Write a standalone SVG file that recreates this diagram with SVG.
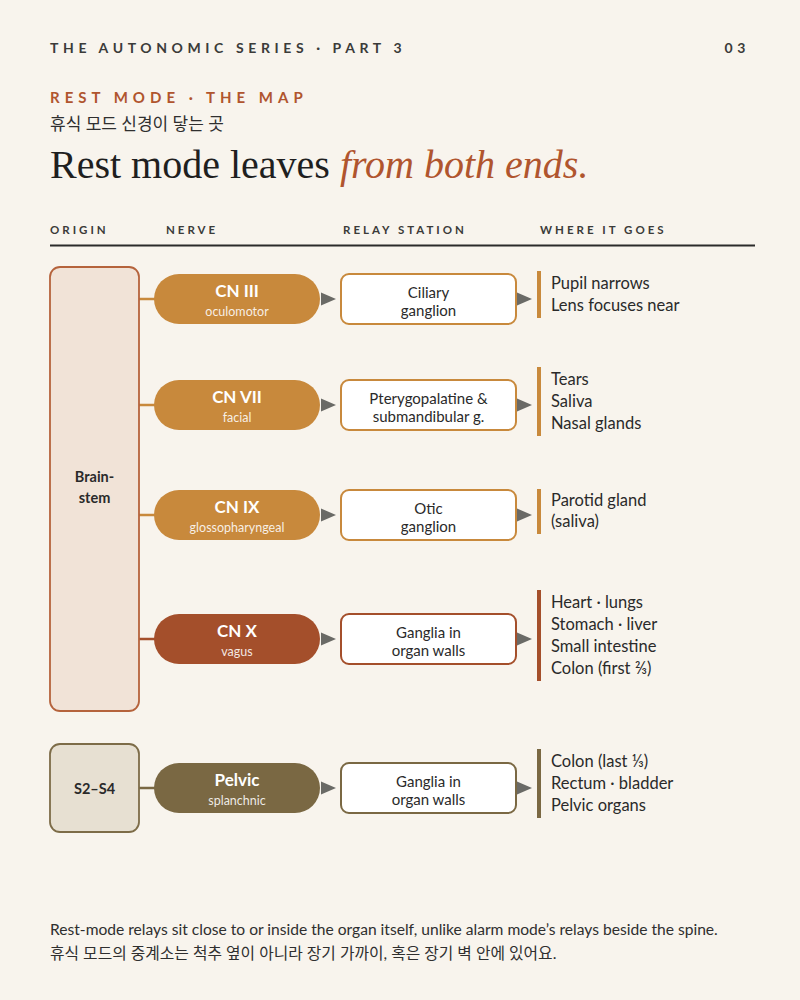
<svg xmlns="http://www.w3.org/2000/svg" width="800" height="1000" viewBox="0 0 800 1000">
<defs>
<style>
.sans{font-family:"Lato","Liberation Sans","Noto Sans CJK KR",sans-serif}
.kr{font-family:"Lato","Noto Sans CJK KR",sans-serif}
.kick{font-family:"Lato","Liberation Sans",sans-serif;font-weight:700;font-size:14px;letter-spacing:4.6px;fill:#3b3b39}
.colh{font-family:"Lato","Liberation Sans",sans-serif;font-weight:700;font-size:11.5px;letter-spacing:3px;fill:#3b3b39}
.pname{font-family:"Lato","Liberation Sans",sans-serif;font-weight:700;font-size:17px;fill:#ffffff;text-anchor:middle}
.psub{font-family:"Lato","Liberation Sans",sans-serif;font-size:12.5px;fill:#ffffff;fill-opacity:0.88;text-anchor:middle}
.relay{font-family:"Lato","Liberation Sans",sans-serif;font-size:15px;fill:#2a2a2a;text-anchor:middle}
.eff{font-family:"Lato","Liberation Sans",sans-serif;font-size:16.5px;fill:#2a2a2a}
.orig{font-family:"Lato","Liberation Sans",sans-serif;font-weight:700;font-size:14.5px;fill:#2a2a2a;text-anchor:middle}
.rbox{fill:#ffffff;stroke-width:2}
.arr{fill:#6a6a66}
.amber{fill:#c8893c}
.rust{fill:#a44f2b}
.olive{fill:#7a6843}
</style>
</defs>
<rect x="0" y="0" width="800" height="1000" fill="#f8f4ed"/>

<g id="header">
<text x="50" y="53" class="kick">THE AUTONOMIC SERIES · PART 3</text>
<text x="750" y="53" class="kick" text-anchor="end">03</text>
<text x="50" y="103" font-family="Lato,'Liberation Sans',sans-serif" font-weight="700" font-size="15" letter-spacing="5" fill="#b0552e">REST MODE · THE MAP</text>
<text x="50" y="130" class="kr" font-size="17" fill="#2f2f2f">휴식 모드 신경이 닿는 곳</text>
<text x="50" y="178" font-family="'Liberation Serif',serif" font-size="40" fill="#1f1f1f">Rest mode leaves <tspan font-style="italic" fill="#b0552e">from both ends.</tspan></text>
</g>

<g id="columns">
<text x="50" y="234" class="colh">ORIGIN</text>
<text x="166" y="234" class="colh">NERVE</text>
<text x="343" y="234" class="colh">RELAY STATION</text>
<text x="540" y="234" class="colh">WHERE IT GOES</text>
<line x1="50" y1="245.5" x2="755" y2="245.5" stroke="#2b2b2b" stroke-width="2"/>
</g>

<g id="connectors">
<line x1="139" y1="299" x2="155" y2="299" stroke="#c8893c" stroke-width="2.5"/>
<line x1="139" y1="405" x2="155" y2="405" stroke="#c8893c" stroke-width="2.5"/>
<line x1="139" y1="515" x2="155" y2="515" stroke="#c8893c" stroke-width="2.5"/>
<line x1="139" y1="639" x2="155" y2="639" stroke="#a44f2b" stroke-width="2.5"/>
<line x1="139" y1="788" x2="155" y2="788" stroke="#7a6843" stroke-width="2.5"/>
<polygon class="arr" points="321,292.5 336,299 321,305.5"/>
<polygon class="arr" points="321,398.5 336,405 321,411.5"/>
<polygon class="arr" points="321,508.5 336,515 321,521.5"/>
<polygon class="arr" points="321,632.5 336,639 321,645.5"/>
<polygon class="arr" points="321,781.5 336,788 321,794.5"/>
<polygon class="arr" points="517,292.5 532,299 517,305.5"/>
<polygon class="arr" points="517,398.5 532,405 517,411.5"/>
<polygon class="arr" points="517,508.5 532,515 517,521.5"/>
<polygon class="arr" points="517,632.5 532,639 517,645.5"/>
<polygon class="arr" points="517,781.5 532,788 517,794.5"/>
</g>

<g id="origin-brainstem">
<rect x="50" y="267" width="89" height="444" rx="10" fill="#f1e3d7" stroke="#b5633c" stroke-width="1.8"/>
<text x="94.5" y="482" class="orig">Brain-</text>
<text x="94.5" y="503" class="orig">stem</text>
</g>
<g id="origin-s2s4">
<rect x="50" y="744" width="89" height="88" rx="10" fill="#e7e0d2" stroke="#7d6c48" stroke-width="1.8"/>
<text x="94.5" y="794" class="orig">S2–S4</text>
</g>

<g id="nerve-cn3">
<rect x="154" y="274" width="166" height="50" rx="25" class="amber"/>
<text x="237" y="297" class="pname">CN III</text>
<text x="237" y="316" class="psub">oculomotor</text>
</g>
<g id="nerve-cn7">
<rect x="154" y="380" width="166" height="50" rx="25" class="amber"/>
<text x="237" y="403" class="pname">CN VII</text>
<text x="237" y="422" class="psub">facial</text>
</g>
<g id="nerve-cn9">
<rect x="154" y="490" width="166" height="50" rx="25" class="amber"/>
<text x="237" y="513" class="pname">CN IX</text>
<text x="237" y="532" class="psub">glossopharyngeal</text>
</g>
<g id="nerve-cn10">
<rect x="154" y="614" width="166" height="50" rx="25" class="rust"/>
<text x="237" y="637" class="pname">CN X</text>
<text x="237" y="656" class="psub">vagus</text>
</g>
<g id="nerve-pelvic">
<rect x="154" y="763" width="166" height="50" rx="25" class="olive"/>
<text x="237" y="786" class="pname">Pelvic</text>
<text x="237" y="805" class="psub">splanchnic</text>
</g>

<g id="relay-ciliary">
<rect x="341" y="274" width="175" height="50" rx="8" class="rbox" stroke="#c8893c"/>
<text x="428.5" y="298" class="relay">Ciliary</text>
<text x="428.5" y="316" class="relay">ganglion</text>
</g>
<g id="relay-ptery">
<rect x="341" y="380" width="175" height="50" rx="8" class="rbox" stroke="#c8893c"/>
<text x="428.5" y="404" class="relay">Pterygopalatine &amp;</text>
<text x="428.5" y="422" class="relay">submandibular g.</text>
</g>
<g id="relay-otic">
<rect x="341" y="490" width="175" height="50" rx="8" class="rbox" stroke="#c8893c"/>
<text x="428.5" y="514" class="relay">Otic</text>
<text x="428.5" y="532" class="relay">ganglion</text>
</g>
<g id="relay-vagal">
<rect x="341" y="614" width="175" height="50" rx="8" class="rbox" stroke="#a44f2b"/>
<text x="428.5" y="638" class="relay">Ganglia in</text>
<text x="428.5" y="656" class="relay">organ walls</text>
</g>
<g id="relay-pelvic">
<rect x="341" y="763" width="175" height="50" rx="8" class="rbox" stroke="#7a6843"/>
<text x="428.5" y="787" class="relay">Ganglia in</text>
<text x="428.5" y="805" class="relay">organ walls</text>
</g>

<g id="effect-cn3">
<rect x="537" y="271" width="4" height="47" class="amber"/>
<text x="551" y="289" class="eff">Pupil narrows</text>
<text x="551" y="311" class="eff">Lens focuses near</text>
</g>
<g id="effect-cn7">
<rect x="537" y="367" width="4" height="69" class="amber"/>
<text x="551" y="385" class="eff">Tears</text>
<text x="551" y="407" class="eff">Saliva</text>
<text x="551" y="429" class="eff">Nasal glands</text>
</g>
<g id="effect-cn9">
<rect x="537" y="489" width="4" height="45" class="amber"/>
<text x="551" y="506" class="eff">Parotid gland</text>
<text x="551" y="527" class="eff">(saliva)</text>
</g>
<g id="effect-cn10">
<rect x="537" y="590" width="4" height="91" class="rust"/>
<text x="551" y="608" class="eff">Heart · lungs</text>
<text x="551" y="630" class="eff">Stomach · liver</text>
<text x="551" y="652" class="eff">Small intestine</text>
<text x="551" y="674" class="eff">Colon (first ⅔)</text>
</g>
<g id="effect-pelvic">
<rect x="537" y="749" width="4" height="69" class="olive"/>
<text x="551" y="767" class="eff">Colon (last ⅓)</text>
<text x="551" y="789" class="eff">Rectum · bladder</text>
<text x="551" y="811" class="eff">Pelvic organs</text>
</g>

<g id="footer">
<text x="50" y="935" class="sans" font-size="15.6" fill="#2f2f2f">Rest-mode relays sit close to or inside the organ itself, unlike alarm mode’s relays beside the spine.</text>
<text x="50" y="959" class="kr" font-size="15.8" fill="#2f2f2f">휴식 모드의 중계소는 척추 옆이 아니라 장기 가까이, 혹은 장기 벽 안에 있어요.</text>
</g>
</svg>
